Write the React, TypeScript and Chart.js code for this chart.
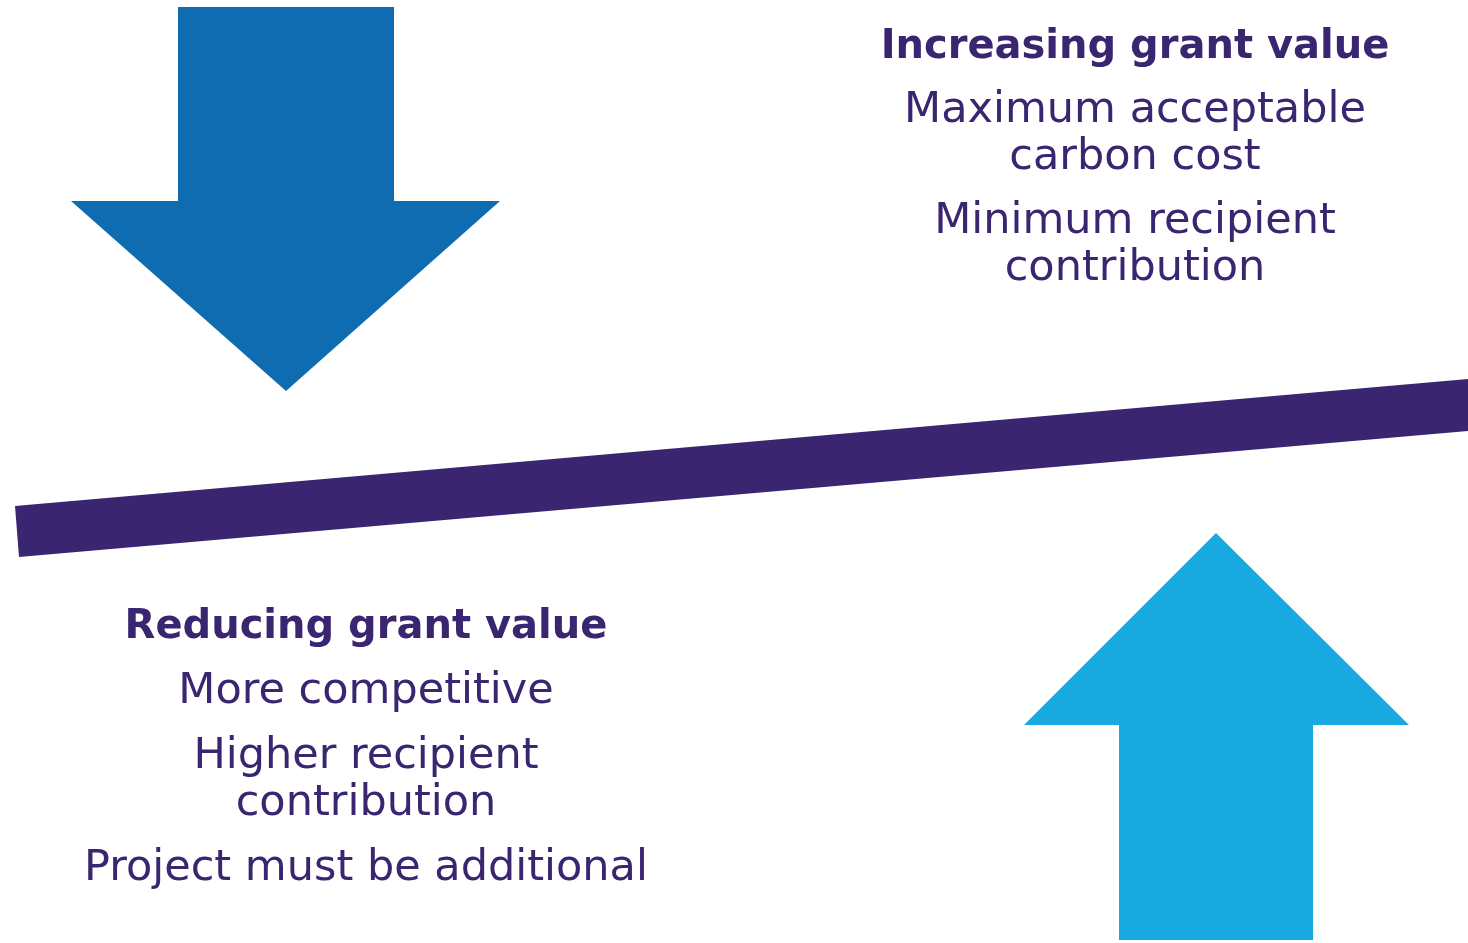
import React, { useEffect, useRef } from "react";
import { Chart, registerables } from "chart.js";

Chart.register(...registerables);

// Shapes (diagram coordinates, y measured from top)
const downArrowX = [178, 394, 394, 500, 286, 71, 178, 178];
const downArrowY = [7, 7, 201, 201, 391, 201, 201, 7];
const upArrowX = [1216, 1409, 1313, 1313, 1119, 1119, 1024, 1216];
const upArrowY = [533, 725, 725, 940, 940, 725, 725, 533];
const barX = [15, 1468, 1468, 19, 15];
const barY = [506, 379, 431, 557, 506];

// Text blocks
const topHeading = "Increasing grant value";
const topLines = ["Maximum acceptable", "carbon cost", "Minimum recipient", "contribution"];
const bottomHeading = "Reducing grant value";
const bottomLines = ["More competitive", "Higher recipient", "contribution", "Project must be additional"];

const PURPLE = "#3A2670";
const DARK_BLUE = "#0F6CB1";
const LIGHT_BLUE = "#18A9E0";

const toPoints = (xs: number[], ys: number[]) => xs.map((x, i) => ({ x, y: ys[i] }));

const FONT = '"DejaVu Sans", sans-serif';

const textPlugin = {
  id: "diagramText",
  afterDatasetsDraw(chart: any) {
    const { ctx, scales } = chart;
    const px = (v: number) => scales.x.getPixelForValue(v);
    const py = (v: number) => scales.y.getPixelForValue(v);
    const block = (cx: number, heading: string, hy: number, lines: string[], ys: number[]) => {
      ctx.save();
      ctx.fillStyle = PURPLE;
      ctx.textAlign = "center";
      ctx.textBaseline = "alphabetic";
      ctx.font = `bold 40px ${FONT}`;
      ctx.fillText(heading, px(cx), py(hy));
      ctx.font = `43px ${FONT}`;
      lines.forEach((l, i) => ctx.fillText(l, px(cx), py(ys[i])));
      ctx.restore();
    };
    block(1135, topHeading, 58, topLines, [122, 169, 233, 280]);
    block(366, bottomHeading, 638, bottomLines, [703, 768, 815, 880]);
  },
};

export default function App() {
  const ref = useRef<HTMLCanvasElement>(null);
  useEffect(() => {
    document.body.style.margin = "0";
    const shape = (data: any, color: string) => ({
      type: "line" as const,
      data,
      fill: "shape",
      backgroundColor: color,
      borderColor: color,
      borderWidth: 0,
      pointRadius: 0,
      tension: 0,
    });
    const chart = new Chart(ref.current!, {
      type: "line",
      data: {
        datasets: [
          shape(toPoints(downArrowX, downArrowY), DARK_BLUE),
          shape(toPoints(upArrowX, upArrowY), LIGHT_BLUE),
          shape(toPoints(barX, barY), PURPLE),
        ] as any,
      },
      options: {
        animation: false,
        responsive: false,
        layout: { padding: 0 },
        scales: {
          x: { type: "linear", min: 0, max: 1468, display: false },
          y: { type: "linear", min: 0, max: 943, reverse: true, display: false },
        },
        plugins: { legend: { display: false }, tooltip: { enabled: false } },
        events: [],
      },
      plugins: [textPlugin],
    });
    return () => chart.destroy();
  }, []);
  return (
    <div style={{ width: 1468, height: 943, background: "#fff" }}>
      <canvas ref={ref} width={1468} height={943} />
    </div>
  );
}
